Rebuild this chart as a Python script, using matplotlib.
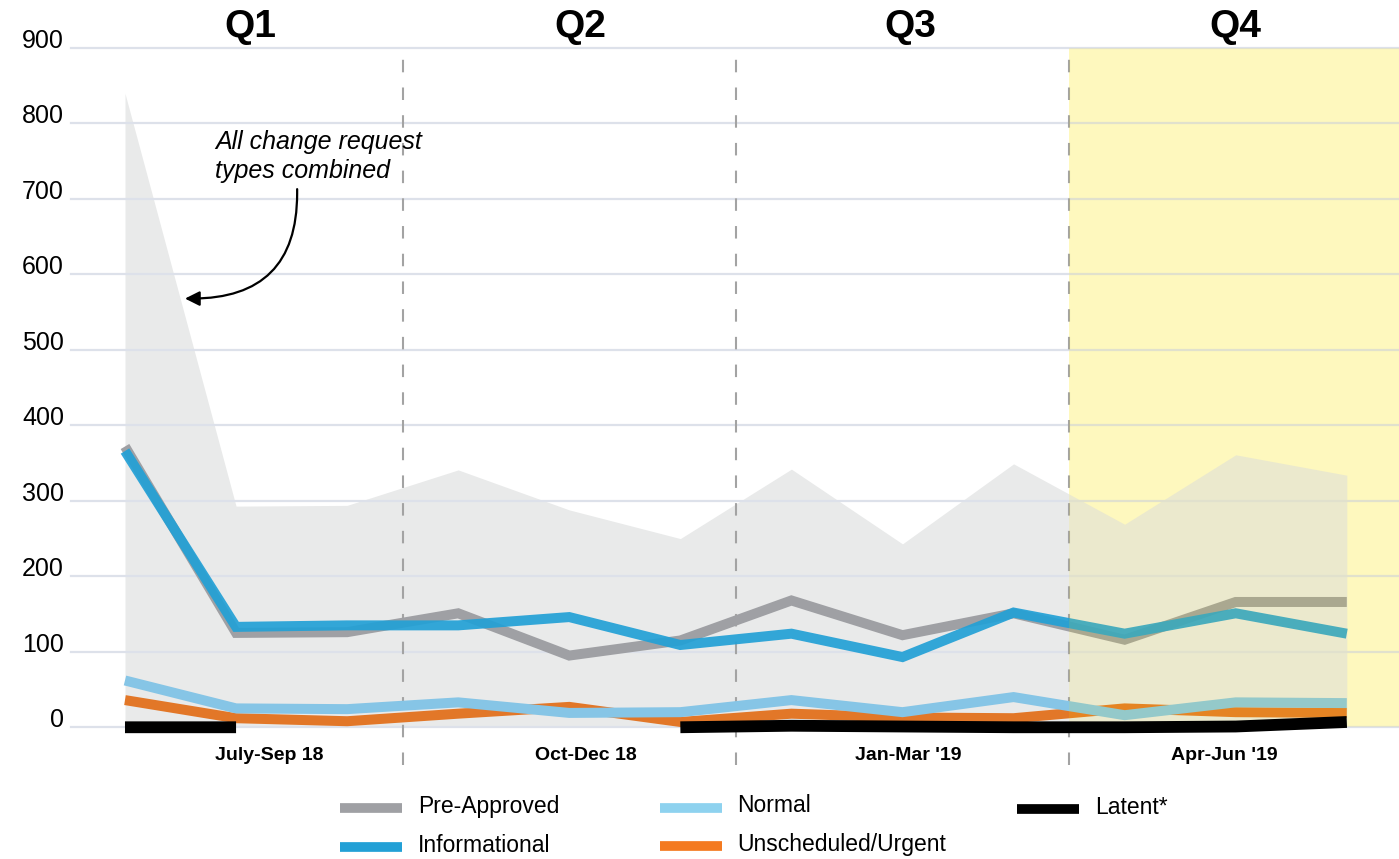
import numpy as np
import matplotlib
matplotlib.use('Agg')
import matplotlib.pyplot as plt
from matplotlib.lines import Line2D

plt.rcParams['font.family'] = ['Liberation Sans', 'DejaVu Sans']

# ── Data (monthly change requests, Jul 2018 - Jun 2019) ──────────────────────
months       = ['Jul', 'Aug', 'Sep', 'Oct', 'Nov', 'Dec',
                'Jan', 'Feb', 'Mar', 'Apr', 'May', 'Jun']
combined     = [840, 293, 294, 341, 288, 250, 342, 243, 349, 269, 361, 334]
pre_approved = [372, 125, 126, 151, 95, 115, 168, 122, 151, 116, 166, 166]
informational = [366, 133, 135, 135, 146, 109, 124, 93, 152, 124, 151, 124]
normal       = [62, 25, 24, 33, 19, 20, 36, 20, 40, 16, 33, 32]
urgent       = [36, 12, 8, 18, 27, 7, 18, 13, 12, 25, 20, 19]
latent       = [0, 0, np.nan, np.nan, np.nan, 0, 2, 1, 0, 0, 1, 7]

quarters     = ['Q1', 'Q2', 'Q3', 'Q4']
period_names = ['July-Sep 18', 'Oct-Dec 18', "Jan-Mar '19", "Apr-Jun '19"]
y_ticks      = [0, 100, 200, 300, 400, 500, 600, 700, 800, 900]

# ── Style ────────────────────────────────────────────────────────────────────
AREA_C   = '#e9eaea'
GRID_C   = '#dde1ea'
PRE_C    = '#9fa0a4'
INFO_C   = '#22a0d6'
NORM_C   = '#86c5e6'
URG_C    = '#e2711d'
LAT_C    = '#000000'
DASH_C   = '#a3a3a3'
Q4_BASE  = '#fefbd9'
Q4_TINT  = (1.0, 0.906, 0.0)
LW       = 7.2

W, H = 1399, 859
fig = plt.figure(figsize=(W / 100, H / 100), dpi=100)
ax = fig.add_axes([71 / W, 1 - 765 / H, 1 - 71 / W, (765 - 48) / H])

x = np.arange(len(months))
x_left, x_right = -0.486, 11.47
ax.set_xlim(x_left, x_right)
ax.set_ylim(-50, 900)

# Q4 highlight: pale base under everything, light tint on top
ax.fill_between([8.5, x_right], 0, 900, color=Q4_BASE, lw=0, zorder=0.5)

# combined area
ax.fill_between(x, 0, combined, color=AREA_C, lw=0, zorder=1)

# gridlines
for yv in y_ticks:
    ax.axhline(yv, color=GRID_C, lw=1.6, zorder=1.5, clip_on=False)

# quarter separators
for xs in [2.5, 5.5, 8.5]:
    ax.axvline(xs, ymin=0, ymax=1, color=DASH_C, lw=1.5,
               ls=(0, (6, 7.3)), zorder=2, clip_on=False)

# series
line_kw = dict(lw=LW, solid_capstyle='butt', solid_joinstyle='miter')
ax.plot(x, pre_approved, color=PRE_C, zorder=3, **line_kw)
ax.plot(x, normal, color=NORM_C, zorder=3.1, **line_kw)
ax.plot(x, urgent, color=URG_C, zorder=3.05, alpha=0.95, **line_kw)
ax.plot(x, informational, color=INFO_C, zorder=3.2, alpha=0.92, **line_kw)

ax.fill_between([8.5, x_right], 0, 900, color=Q4_TINT, alpha=0.12,
                lw=0, zorder=5)

ax.plot(x, latent, color=LAT_C, lw=8.5, solid_capstyle='butt',
        solid_joinstyle='miter', zorder=6, clip_on=False)

# axes cosmetics
for s in ax.spines.values():
    s.set_visible(False)
ax.set_xticks([])
ax.set_yticks(y_ticks)
ax.set_yticklabels([str(v) for v in y_ticks], fontsize=18)
ax.tick_params(axis='y', length=0, pad=5)
for lbl in ax.get_yticklabels():
    lbl.set_va('baseline')

# quarter headers and period labels
q_pos = [1.13, 4.1, 7.07, 10.0]
p_pos = [1.3, 4.15, 7.05, 9.9]
for q, qx in zip(quarters, q_pos):
    ax.text(qx, 1.029, q, transform=ax.get_xaxis_transform(), ha='center',
            va='center', fontsize=28, fontweight='bold')
for p, px in zip(period_names, p_pos):
    ax.text(px, -38, p, ha='center', va='center', fontsize=14,
            fontweight='bold')

# annotation
ax.text(0.81, 792, 'All change request\ntypes combined', ha='left', va='top',
        fontsize=18, style='italic', linespacing=1.3, zorder=7)
ax.annotate('', xy=(0.54, 568), xytext=(1.55, 713),
            arrowprops=dict(arrowstyle='-|>', color='black', lw=1.6,
                            mutation_scale=22, shrinkA=0, shrinkB=0,
                            connectionstyle='angle,angleA=-90,angleB=180,rad=105'),
            zorder=7)

# legend (manual, laid out in pixels)
def fx(px):
    return px / W

def fy(py):
    return 1 - py / H

legend_items = [
    ('Pre-Approved', PRE_C, 340, 418, 806),
    ('Informational', INFO_C, 340, 418, 845),
    ('Normal', '#8ed2ef', 660, 737, 806),
    ('Unscheduled/Urgent', '#f47a20', 660, 737, 844),
    ('Latent*', LAT_C, 1017, 1095, 807),
]
for label, col, hx, tx, ty in legend_items:
    fig.add_artist(Line2D([fx(hx), fx(hx + 62)], [fy(ty + 2), fy(ty + 2)],
                          transform=fig.transFigure, color=col, lw=7,
                          solid_capstyle='butt'))
    fig.text(fx(tx), fy(ty), label, ha='left', va='center', fontsize=16.5)

fig.savefig('out.png', dpi=100, facecolor='white')
